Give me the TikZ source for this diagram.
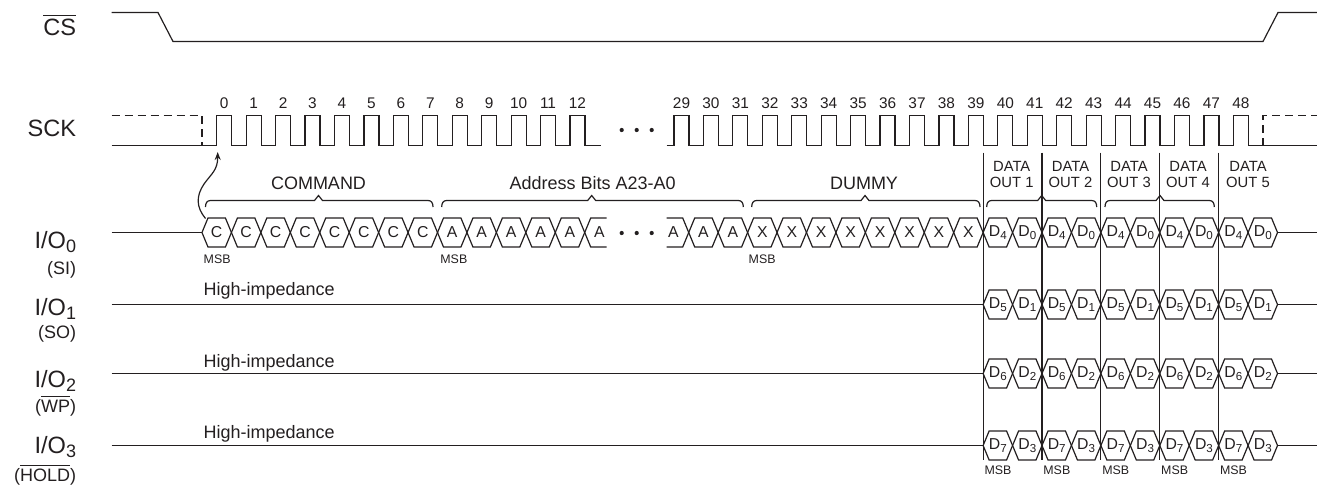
\documentclass[tikz,border=0pt]{standalone}
\usepackage{fontspec}
\setmainfont{Liberation Sans}
\usetikzlibrary{arrows.meta}
\definecolor{ink}{RGB}{35,31,32}
\newcommand{\fs}[1]{\fontsize{#1}{#1}\selectfont}
\newcommand{\ovl}[1]{$\overline{\mbox{#1}}$}
\newcommand{\sbs}[1]{\raisebox{-0.3ex}{\fs{5.8}#1}}
\newcommand{\iosub}[1]{\raisebox{-0.35ex}{\fs{9}#1}}
\newcommand{\hexc}[4]{%
  \draw[wave] (#1-14.72,#2) -- (#1-8.72,#2-14.5) -- (#1+8.72,#2-14.5) -- (#1+14.72,#2)
    -- (#1+8.72,#2+14.5) -- (#1-8.72,#2+14.5) -- cycle;
  \node[hexlbl] (#4) at (#1,#2) {#3};}
\newcommand{\bracex}[3]{%
  \draw[wave] (#1,207) .. controls (#1,203) and (#1+1.5,200.5) .. (#1+5,200.5)
    -- (#2-4,200.5) -- (#2,195.5) -- (#2+4,200.5)
    -- (#3-5,200.5) .. controls (#3-1.5,200.5) and (#3,203) .. (#3,207);}
\begin{document}
\begin{tikzpicture}[x=0.5pt,y=-0.5pt,
  wave/.style={draw=ink,line width=0.6pt},
  dashwave/.style={draw=ink,line width=0.6pt,dash pattern=on 4pt off 2.5pt},
  siglbl/.style={font=\fs{11.8},text=ink,anchor=base east,inner sep=0},
  sublbl/.style={font=\fs{9},text=ink,anchor=base east,inner sep=0},
  num/.style={font=\fs{7.7},text=ink,anchor=base,inner sep=0},
  hexlbl/.style={font=\fs{7.9},text=ink,inner sep=0},
  brlbl/.style={font=\fs{9},text=ink,anchor=base,inner sep=0},
  datalbl/.style={font=\fs{7.4},text=ink,anchor=base,inner sep=0},
  msb/.style={font=\fs{6.2},text=ink,anchor=base west,inner sep=0},
  hiz/.style={font=\fs{9},text=ink,anchor=base west,inner sep=0},
  dot/.style={fill=ink,draw=none}]
\useasboundingbox (0,0) rectangle (1317,484);

% ---------- labels ----------
\node[siglbl] (lcs) at (76.5,35) {\ovl{CS}};
\node[siglbl] (lsck) at (76.5,136.5) {SCK};
\node[siglbl] (lio0) at (76.5,248.3) {I/O\iosub{0}};
\node[sublbl] (lsi) at (76.5,274) {(SI)};
\node[siglbl] (lio1) at (76.5,315) {I/O\iosub{1}};
\node[sublbl] (lso) at (76.5,338) {(SO)};
\node[siglbl] (lio2) at (76.5,387) {I/O\iosub{2}};
\node[sublbl] (lwp) at (76.5,412) {(\ovl{WP})};
\node[siglbl] (lio3) at (76.5,453) {I/O\iosub{3}};
\node[sublbl] (lhold) at (76.5,481) {(\ovl{HOLD})};

% ---------- CS ----------
\draw[wave] (111.5,12.5) -- (158,12.5) -- (173,41.5) -- (1263,41.5) -- (1278,12.5) -- (1317,12.5);

% ---------- SCK ----------
\draw[dashwave] (111.5,115.5) -- (202,115.5) -- (202,145.5);
\draw[dashwave] (1263,145.5) -- (1263,115.5) -- (1317,115.5);
\draw[wave] (111.5,145.5) \foreach \k in {0,...,12} { -- ({216.7+29.44*\k},145.5) -- ++(0,-30) -- ++(15,0) -- ++(0,30) } -- (601,145.5);
\draw[wave] (666.7,145.5) \foreach \k in {29,...,48} { -- ({674+29.44*(\k-29)},145.5) -- ++(0,-30) -- ++(15,0) -- ++(0,30) } -- (1317,145.5);
\foreach \k in {0,...,12} \node[num] (n\k) at ({216.7+29.44*\k+7.5},108.5) {\k};
\foreach \k in {29,...,48} \node[num] (n\k) at ({674+29.44*(\k-29)+7.5},108.5) {\k};
\foreach \x [count=\i] in {621.7,636.7,651.7} {
  \fill[dot] (\x,130) circle (2.1);
  \fill[dot] (\x,233) circle (2.1);}

% ---------- arrow to first edge ----------
\coordinate (astart) at (205.5,218.5);
\coordinate (aend) at (217.7,152);
\draw[wave,-{Stealth[length=4pt,width=3pt]}] (astart) .. controls (196,207) and (196,196) .. (204,184)
  .. controls (212,173) and (217.7,170) .. (aend);

% ---------- braces ----------
\bracex{205.5}{318.5}{433}
\bracex{441.7}{591.7}{743.3}
\bracex{751.7}{865}{980}
\bracex{986.7}{1041.7}{1096.7}
\bracex{1105}{1160}{1214.3}
\node[brlbl] (tcmd) at (318.5,189.3) {COMMAND};
\node[brlbl] (taddr) at (592.7,189.3) {Address Bits A23-A0};
\node[brlbl] (tdum) at (864,189.3) {DUMMY};
\foreach \x/\n in {1011.7/1,1070.5/2,1129/3,1188/4,1248/5} {
  \node[datalbl] (da\n) at (\x,171.7) {DATA};
  \node[datalbl] (do\n) at (\x,187.3) {OUT \n};}

% ---------- vertical separators ----------
\foreach \x [count=\i] in {983.12,1042,1100.88,1159.76,1218.64} {
  \draw[wave] (\x,152.7) -- (\x,460);
  \node[msb] (mb\i) at (\x+1,474) {MSB};}

% ---------- I/O0 ----------
\draw[wave] (111.5,232.5) -- (201.98,232.5);
\foreach \k [evaluate=\k as \cx using 216.7+29.44*\k] in {0,...,7} {\hexc{\cx}{232.5}{C}{c\k}}
\foreach \k [evaluate=\k as \cx using 216.7+29.44*\k] in {8,...,12} {\hexc{\cx}{232.5}{A}{a\k}}
\draw[wave] (606.7,218) -- (590.7,218) -- (584.7,232.5) -- (590.7,247) -- (606.7,247);
\node[hexlbl] (a13) at (599.4,232.5) {A};
\draw[wave] (666.7,218) -- (682.72,218) -- (688.72,232.5) -- (682.72,247) -- (666.7,247);
\node[hexlbl] (a29) at (673.5,232.5) {A};
\foreach \k [evaluate=\k as \cx using 674+29.44*(\k-29)] in {30,31} {\hexc{\cx}{232.5}{A}{a\k}}
\foreach \k [evaluate=\k as \cx using 674+29.44*(\k-29)] in {32,...,39} {\hexc{\cx}{232.5}{X}{x\k}}
\node[msb] (ms0) at (203.3,263) {MSB};
\node[msb] (ms1) at (440,263) {MSB};
\node[msb] (ms2) at (748.3,263) {MSB};

% ---------- data cells ----------
\foreach \y/\ha/\hb/\r in {232.5/4/0/0,304.5/5/1/1,373.5/6/2/2,445.5/7/3/3} {
  \foreach \j [evaluate=\j as \ca using 674+29.44*(11+2*\j),
               evaluate=\j as \cb using 674+29.44*(12+2*\j)] in {0,...,4} {
    \hexc{\ca}{\y}{D\sbs{\ha}}{d\r a\j}
    \hexc{\cb}{\y}{D\sbs{\hb}}{d\r b\j}}
  \draw[wave] (1277.52,\y) -- (1317,\y);}
\draw[wave] (111.5,304.5) -- (983.12,304.5);
\draw[wave] (111.5,373.5) -- (983.12,373.5);
\draw[wave] (111.5,445.5) -- (983.12,445.5);
\node[hiz] (hz1) at (203.3,295) {High-impedance};
\node[hiz] (hz2) at (203.3,367) {High-impedance};
\node[hiz] (hz3) at (203.3,438.5) {High-impedance};
\end{tikzpicture}
\end{document}
